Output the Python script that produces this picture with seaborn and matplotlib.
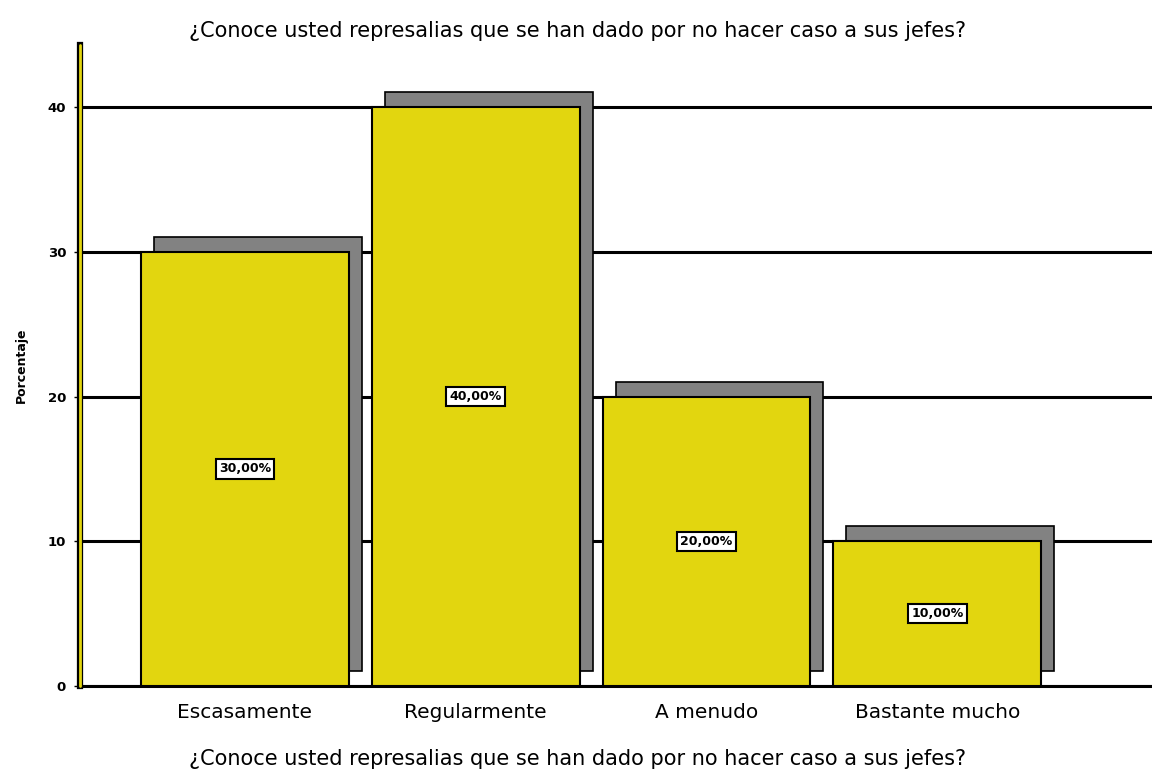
import matplotlib
matplotlib.use("Agg")
import matplotlib.pyplot as plt
import matplotlib.transforms as mtransforms
import seaborn as sns
import pandas as pd

categories = ["Escasamente", "Regularmente", "A menudo", "Bastante mucho"]
percentages = [30.0, 40.0, 20.0, 10.0]
bar_labels = ["30,00%", "40,00%", "20,00%", "10,00%"]
y_ticks = [0, 10, 20, 30, 40]
title_text = "¿Conoce usted represalias que se han dado por no hacer caso a sus jefes?"
x_label_text = "¿Conoce usted represalias que se han dado por no hacer caso a sus jefes?"
y_label_text = "Porcentaje"

df = pd.DataFrame({"cat": categories, "pct": percentages})

sns.set_theme(style="white")
plt.rcParams["font.family"] = ["DejaVu Sans"]
plt.rcParams["text.color"] = "black"
plt.rcParams["axes.labelcolor"] = "black"
plt.rcParams["xtick.color"] = "black"
plt.rcParams["ytick.color"] = "black"

fig = plt.figure(figsize=(11.52, 7.78), dpi=100)
ax = fig.add_axes([80 / 1152, 1 - 686 / 778, 1 - 80 / 1152, (686 - 45) / 778])

YELLOW = "#E2D60F"
GRAY = "#828282"

# shadow bars (gray), shifted right and up
sns.barplot(data=df, x="cat", y="pct", color=GRAY, width=0.9, ax=ax,
            edgecolor="black", linewidth=1.2, saturation=1, zorder=2)
shift = mtransforms.ScaledTranslation(13 / 100, 15 / 100, fig.dpi_scale_trans)
for p in ax.patches:
    p.set_transform(ax.transData + shift)

# main bars (yellow)
sns.barplot(data=df, x="cat", y="pct", color=YELLOW, width=0.9, ax=ax,
            edgecolor="black", linewidth=1.5, saturation=1, zorder=3)

ax.set_xlim(-0.714, 3.93)
ax.set_ylim(0, 44.3)
ax.set_yticks(y_ticks)
ax.set_yticklabels([str(t) for t in y_ticks], fontsize=9.5, fontweight="bold")
ax.tick_params(axis="y", length=4, width=1, color="black", pad=6, left=True)
ax.tick_params(axis="x", length=0, pad=12, labelsize=14.5)

ax.yaxis.grid(True, color="black", linewidth=2.2, zorder=1)
ax.xaxis.grid(False)
ax.set_axisbelow(True)

for s in ["top", "right"]:
    ax.spines[s].set_visible(False)
ax.spines["bottom"].set_color("black")
ax.spines["bottom"].set_linewidth(2.2)
ax.spines["left"].set_color("black")
ax.spines["left"].set_linewidth(4.5)
ax.axvline(-0.714, color=YELLOW, linewidth=2, zorder=6, clip_on=False)

for i, (v, lab) in enumerate(zip(percentages, bar_labels)):
    ax.text(i, v / 2, lab, ha="center", va="center", fontsize=9,
            fontweight="bold", zorder=7,
            bbox=dict(boxstyle="square,pad=0.25", facecolor="white",
                      edgecolor="black", linewidth=1.5))

ax.set_xlabel(x_label_text, fontsize=15, labelpad=20)
ax.xaxis.label.set_x((578 - 80) / 1072)
ax.set_ylabel(y_label_text, fontsize=9, fontweight="bold", labelpad=14)
fig.text(578 / 1152, 1 - 31 / 778, title_text, ha="center", va="center",
         fontsize=15)

fig.savefig("out.png", dpi=100)
